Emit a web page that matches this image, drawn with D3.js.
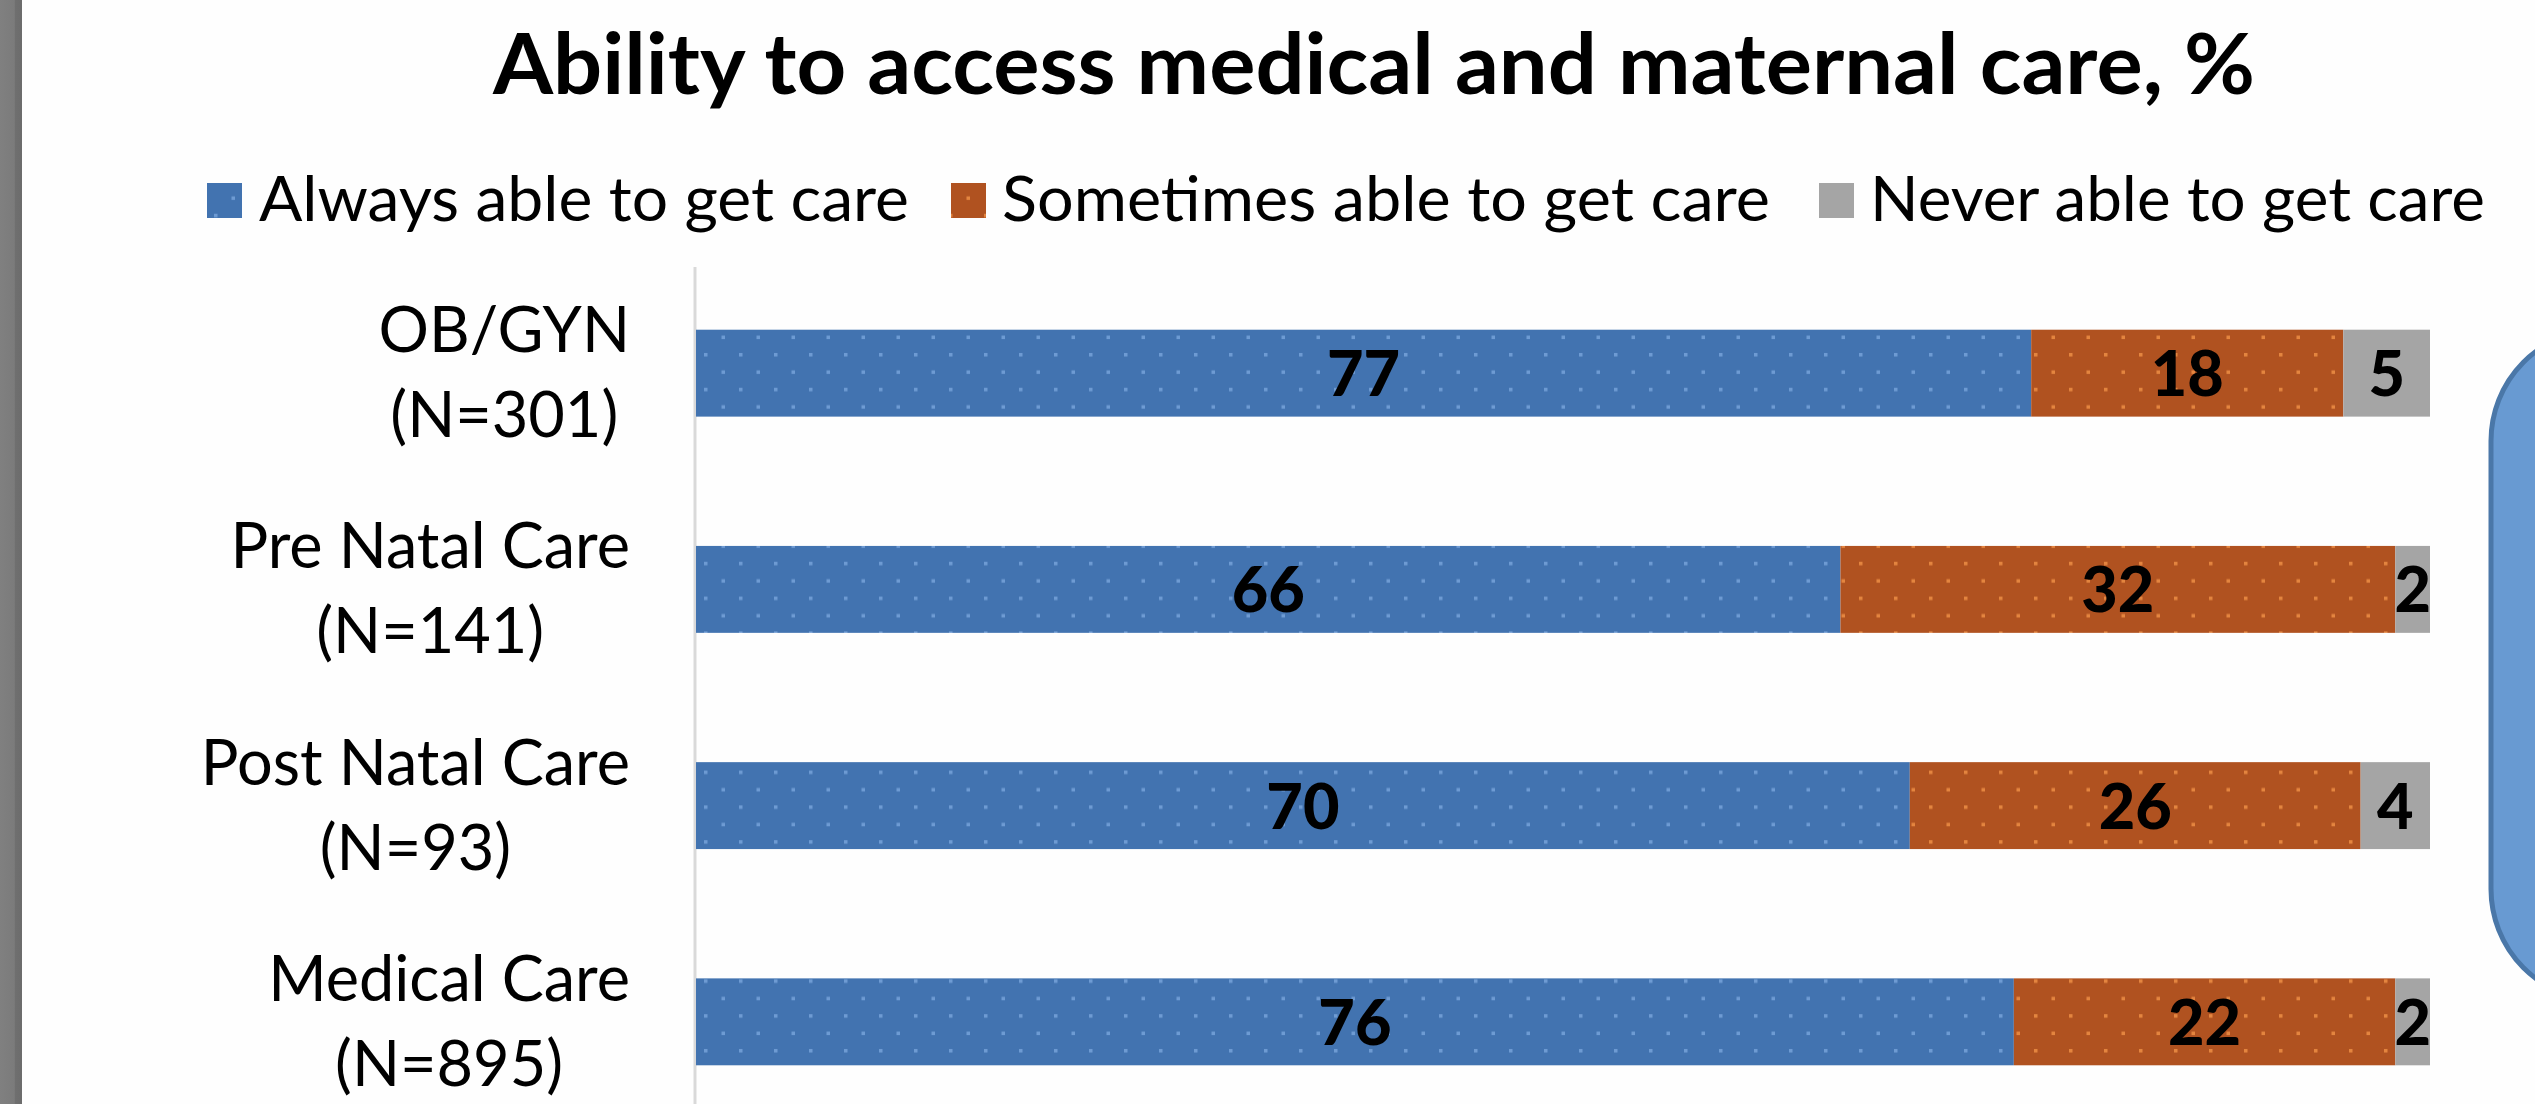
<!DOCTYPE html>
<html>
<head>
<meta charset="utf-8">
<script src="https://cdn.jsdelivr.net/npm/d3@7"></script>
<style>
  body { margin: 0; background: #fefefe; overflow: hidden; }
</style>
</head>
<body>
<div class="chart"></div>
<script>
// chart data
var categories = ["OB/GYN", "Pre Natal Care", "Post Natal Care", "Medical Care"];
var sampleSizes = ["(N=301)", "(N=141)", "(N=93)", "(N=895)"];
var alwaysVals = [77, 66, 70, 76];
var sometimesVals = [18, 32, 26, 22];
var neverVals = [5, 2, 4, 2];
var seriesNames = ["Always able to get care", "Sometimes able to get care", "Never able to get care"];

var svgWidth = 2535;
var svgHeight = 1104;

var svg = d3.select(".chart").append("svg")
    .attr("width", svgWidth).attr("height", svgHeight);

svg.append("rect").attr("width", svgWidth).attr("height", svgHeight).attr("fill", "#fefefe");

// dotted fills
var defs = svg.append("defs");
function dotPattern(id, bg, dot) {
    var p = defs.append("pattern").attr("id", id)
        .attr("patternUnits", "userSpaceOnUse")
        .attr("width", 35).attr("height", 34.8);
    p.append("rect").attr("width", 35).attr("height", 34.8).attr("fill", bg);
    p.append("rect").attr("x", 4).attr("y", 5).attr("width", 3.5).attr("height", 3.5).attr("fill", dot);
    p.append("rect").attr("x", 21.5).attr("y", 22.4).attr("width", 3.5).attr("height", 3.5).attr("fill", dot);
}
dotPattern("dotBlue", "#4273b0", "#6e9bd3");
dotPattern("dotOrange", "#b05220", "#e4853f");
var fills = ["url(#dotBlue)", "url(#dotOrange)", "#a5a5a5"];

// grey strip on the left edge
var grad = defs.append("linearGradient").attr("id", "edge");
grad.append("stop").attr("offset", "0").attr("stop-color", "#808080");
grad.append("stop").attr("offset", "0.65").attr("stop-color", "#7b7b7b");
grad.append("stop").attr("offset", "0.7").attr("stop-color", "#6f6f6f");
grad.append("stop").attr("offset", "1").attr("stop-color", "#6c6c6c");
svg.append("rect").attr("x", 0).attr("y", 0).attr("width", 22).attr("height", svgHeight)
    .attr("fill", "url(#edge)");

// rounded box cut off at the right
svg.append("rect")
    .attr("x", 2491).attr("y", 330).attr("width", 300).attr("height", 670)
    .attr("rx", 110).attr("ry", 111)
    .attr("fill", "#689ad2").attr("stroke", "#4a77a8").attr("stroke-width", 5);

// title
svg.append("text")
    .attr("x", 1374).attr("y", 94)
    .attr("text-anchor", "middle")
    .attr("font-family", "Lato, sans-serif").attr("font-weight", "bold")
    .attr("font-size", "84px")
    .attr("textLength", 1762).attr("lengthAdjust", "spacingAndGlyphs")
    .text("Ability to access medical and maternal care, %");

// legend
var legendSwatchX = [207, 951, 1819];
var legendTextX = [[259, 909], [1002, 1770], [1870, 2485]];
var legend = svg.append("g").selectAll("g").data(seriesNames).enter().append("g");
legend.append("rect")
    .attr("x", (d, i) => legendSwatchX[i]).attr("y", 183)
    .attr("width", 35).attr("height", 35)
    .attr("fill", (d, i) => fills[i]);
legend.append("text")
    .attr("x", (d, i) => legendTextX[i][0]).attr("y", 221)
    .attr("font-family", "Lato, sans-serif").attr("font-size", "62px")
    .attr("textLength", (d, i) => legendTextX[i][1] - legendTextX[i][0])
    .attr("lengthAdjust", "spacingAndGlyphs")
    .text(d => d);

// scales
var xScale = d3.scaleLinear().domain([0, 100]).range([696, 2430]);
var yScale = d3.scaleBand().domain(categories).range([267, 1128])
    .paddingInner(0.598).paddingOuter(0.29);

// vertical axis line only
var yAxis = svg.append("g").attr("transform", "translate(695,0)")
    .call(d3.axisLeft(yScale).tickSize(0).tickFormat(""));
yAxis.select(".domain").attr("stroke", "#d9d9d9").attr("stroke-width", 3)
    .attr("d", "M0,267V1104");

// stack the series
var rows = categories.map((c, i) => ({
    cat: c, n: sampleSizes[i],
    vals: [alwaysVals[i], sometimesVals[i], neverVals[i]]
}));

var barGroup = svg.append("g");
rows.forEach(function(r) {
    var start = 0;
    r.vals.forEach(function(v, k) {
        var x0 = xScale(start), x1 = xScale(start + v);
        barGroup.append("rect")
            .attr("x", x0).attr("y", yScale(r.cat))
            .attr("width", x1 - x0).attr("height", yScale.bandwidth())
            .attr("fill", fills[k]);
        barGroup.append("text")
            .attr("x", (x0 + x1) / 2)
            .attr("y", yScale(r.cat) + yScale.bandwidth() / 2 + 23)
            .attr("text-anchor", "middle")
            .attr("font-family", "Lato, sans-serif").attr("font-weight", "900")
            .attr("font-size", "63px").attr("fill", "#000")
            .text(v);
        start += v;
    });
});

// category labels, two centred lines, block right aligned
var labelRight = 630;
var labels = svg.append("g").selectAll("g").data(rows).enter().append("g");
labels.each(function(d) {
    var g = d3.select(this);
    var c = yScale(d.cat) + yScale.bandwidth() / 2;
    var t1 = g.append("text").attr("y", c - 21).text(d.cat);
    var t2 = g.append("text").attr("y", c + 64).text(d.n);
    g.selectAll("text")
        .attr("font-family", "Lato, sans-serif").attr("font-size", "63px")
        .attr("text-anchor", "middle").attr("fill", "#000");
    var w = Math.max(t1.node().getComputedTextLength(), t2.node().getComputedTextLength());
    g.selectAll("text").attr("x", labelRight - w / 2);
});
</script>
</body>
</html>
